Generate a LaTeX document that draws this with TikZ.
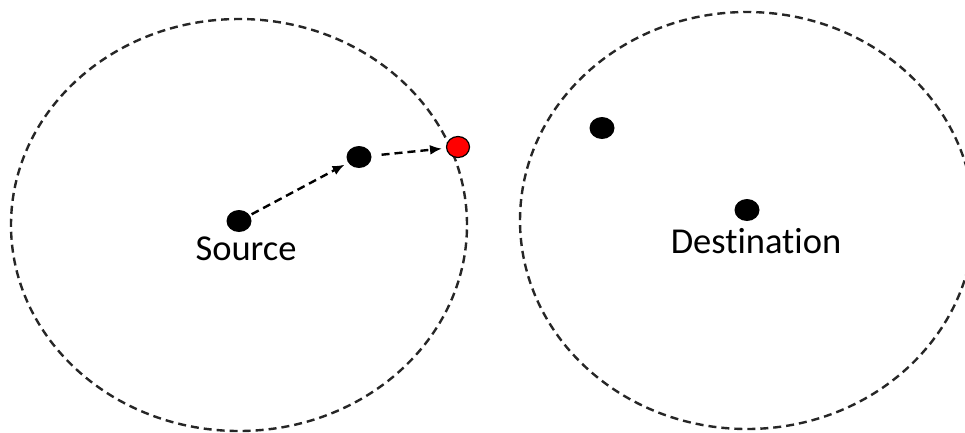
\documentclass[tikz,border=0pt]{standalone}
\usepackage{fontspec}
\setmainfont[Ligatures=NoCommon]{Carlito}
\usetikzlibrary{shapes.geometric,arrows.meta}
\begin{document}
\begin{tikzpicture}[x=1pt,y=-1pt,
  region/.style={draw=black!85, line width=2.4pt, dash pattern=on 8pt off 5pt},
  dot/.style={ellipse, fill=black, minimum width=25pt, minimum height=22pt, inner sep=0pt},
  reddot/.style={ellipse, fill=red, draw=black, line width=1.2pt, minimum width=23pt, minimum height=21pt, inner sep=0pt},
  hop/.style={line width=2.4pt, dash pattern=on 8pt off 5pt, -{Latex[length=12pt,width=10pt]}},
  lbl/.style={font=\fontsize{36.5}{40}\selectfont, inner sep=0pt}]
\useasboundingbox (0,0) rectangle (965,432);
\fill[white] (0,0) rectangle (965,432);
\draw[region] (239,225) ellipse [x radius=228pt, y radius=206pt];
\draw[region] (747,220.5) ellipse [x radius=227pt, y radius=208.5pt];
\node[dot] (src) at (239,221) {};
\node[dot] (mid) at (359,157) {};
\node[reddot] (edge) at (458,147) {};
\node[dot] (nbr) at (602,128) {};
\node[dot] (dst) at (747,210) {};
\node[lbl] (srclbl) at (246,249) {Source};
\node[lbl] (dstlbl) at (756,241) {Destination};
\draw[hop, shorten <=2pt, shorten >=4pt] (src) -- (mid);
\draw[hop, shorten <=10pt, shorten >=4pt] (mid) -- (edge);
\end{tikzpicture}
\end{document}
